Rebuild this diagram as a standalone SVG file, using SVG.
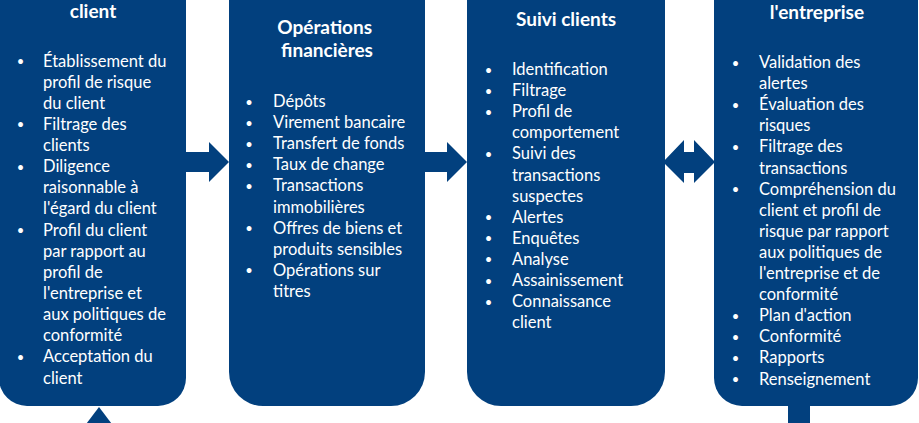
<svg xmlns="http://www.w3.org/2000/svg" width="919" height="423" viewBox="0 0 919 423">
  <style>
    .box { fill: #02407E; }
    .arrow { fill: #02407E; }
    text { font-family: Lato, "Liberation Sans", sans-serif; fill: #FFFFFF; }
    .title { font-size: 19px; font-weight: bold; text-anchor: middle; }
    .item { font-size: 16.5px; }
    .dot { font-size: 13px; text-anchor: middle; }
  </style>

  <!-- connectors: block arrows between the stages -->
  <g id="connectors">
    <polygon class="arrow" points="185,152 209,152 209,142 229,162 209,182 209,172 185,172"/>
    <polygon class="arrow" points="424,152 447,152 447,142 467,162 447,182 447,172 424,172"/>
    <polygon class="arrow" points="663,162 684,140 684,152 694,152 694,140 715,162 694,183 694,173 684,173 684,183"/>
    <polygon class="arrow" points="99,407 124,440 74,440"/>
    <rect class="arrow" x="788" y="400" width="22" height="30"/>
  </g>

  <!-- stage 1: client -->
  <g id="node-client">
    <rect class="box" x="-1" y="-60" width="187" height="466" rx="28" ry="28"/>
    <text class="title" x="93" y="17.5">client</text>
    <text class="dot" x="20.5" y="66">•</text>
    <text class="dot" x="20.5" y="129.4">•</text>
    <text class="dot" x="20.5" y="171.7">•</text>
    <text class="dot" x="20.5" y="235.1">•</text>
    <text class="dot" x="20.5" y="361.9">•</text>
    <text class="item">
      <tspan x="43" y="66.5">Établissement du</tspan>
      <tspan x="43" y="87.6">profil de risque</tspan>
      <tspan x="43" y="108.8">du client</tspan>
      <tspan x="43" y="129.9">Filtrage des</tspan>
      <tspan x="43" y="151.0">clients</tspan>
      <tspan x="43" y="172.2">Diligence</tspan>
      <tspan x="43" y="193.3">raisonnable à</tspan>
      <tspan x="43" y="214.4">l'égard du client</tspan>
      <tspan x="43" y="235.6">Profil du client</tspan>
      <tspan x="43" y="256.7">par rapport au</tspan>
      <tspan x="43" y="277.8">profil de</tspan>
      <tspan x="43" y="299.0">l'entreprise et</tspan>
      <tspan x="43" y="320.1">aux politiques de</tspan>
      <tspan x="43" y="341.2">conformité</tspan>
      <tspan x="43" y="362.4">Acceptation du</tspan>
      <tspan x="43" y="383.5">client</tspan>
    </text>
  </g>

  <!-- stage 2: financial operations -->
  <g id="node-operations">
    <rect class="box" x="229" y="-60" width="196" height="466" rx="34" ry="34"/>
    <text class="title">
      <tspan x="327" y="34">Opérations</tspan>
      <tspan x="327" y="57">financières</tspan>
    </text>
    <text class="dot" x="249" y="106.5">•</text>
    <text class="dot" x="249" y="127.6">•</text>
    <text class="dot" x="249" y="148.7">•</text>
    <text class="dot" x="249" y="169.8">•</text>
    <text class="dot" x="249" y="190.9">•</text>
    <text class="dot" x="249" y="233.1">•</text>
    <text class="dot" x="249" y="275.3">•</text>
    <text class="item">
      <tspan x="273" y="107">Dépôts</tspan>
      <tspan x="273" y="128.1">Virement bancaire</tspan>
      <tspan x="273" y="149.2">Transfert de fonds</tspan>
      <tspan x="273" y="170.3">Taux de change</tspan>
      <tspan x="273" y="191.4">Transactions</tspan>
      <tspan x="273" y="212.5">immobilières</tspan>
      <tspan x="273" y="233.6">Offres de biens et</tspan>
      <tspan x="273" y="254.7">produits sensibles</tspan>
      <tspan x="273" y="275.8">Opérations sur</tspan>
      <tspan x="273" y="296.9">titres</tspan>
    </text>
  </g>

  <!-- stage 3: customer monitoring -->
  <g id="node-suivi">
    <rect class="box" x="467" y="-60" width="198" height="466" rx="34" ry="34"/>
    <text class="title" x="566" y="26">Suivi clients</text>
    <text class="dot" x="488.5" y="74.5">•</text>
    <text class="dot" x="488.5" y="95.6">•</text>
    <text class="dot" x="488.5" y="116.7">•</text>
    <text class="dot" x="488.5" y="158.9">•</text>
    <text class="dot" x="488.5" y="222.2">•</text>
    <text class="dot" x="488.5" y="243.3">•</text>
    <text class="dot" x="488.5" y="264.4">•</text>
    <text class="dot" x="488.5" y="285.5">•</text>
    <text class="dot" x="488.5" y="306.6">•</text>
    <text class="item">
      <tspan x="512" y="75">Identification</tspan>
      <tspan x="512" y="96.1">Filtrage</tspan>
      <tspan x="512" y="117.2">Profil de</tspan>
      <tspan x="512" y="138.3">comportement</tspan>
      <tspan x="512" y="159.4">Suivi des</tspan>
      <tspan x="512" y="180.5">transactions</tspan>
      <tspan x="512" y="201.6">suspectes</tspan>
      <tspan x="512" y="222.7">Alertes</tspan>
      <tspan x="512" y="243.8">Enquêtes</tspan>
      <tspan x="512" y="264.9">Analyse</tspan>
      <tspan x="512" y="286.0">Assainissement</tspan>
      <tspan x="512" y="307.1">Connaissance</tspan>
      <tspan x="512" y="328.2">client</tspan>
    </text>
  </g>

  <!-- stage 4: company policy -->
  <g id="node-entreprise">
    <rect class="box" x="714" y="-60" width="204" height="466" rx="28" ry="28"/>
    <text class="title" x="817" y="18.5">l'entreprise</text>
    <text class="dot" x="735.5" y="67.5">•</text>
    <text class="dot" x="735.5" y="109.7">•</text>
    <text class="dot" x="735.5" y="151.9">•</text>
    <text class="dot" x="735.5" y="194.1">•</text>
    <text class="dot" x="735.5" y="320.7">•</text>
    <text class="dot" x="735.5" y="341.8">•</text>
    <text class="dot" x="735.5" y="362.9">•</text>
    <text class="dot" x="735.5" y="384.0">•</text>
    <text class="item">
      <tspan x="759" y="68">Validation des</tspan>
      <tspan x="759" y="89.1">alertes</tspan>
      <tspan x="759" y="110.2">Évaluation des</tspan>
      <tspan x="759" y="131.3">risques</tspan>
      <tspan x="759" y="152.4">Filtrage des</tspan>
      <tspan x="759" y="173.5">transactions</tspan>
      <tspan x="759" y="194.6">Compréhension du</tspan>
      <tspan x="759" y="215.7">client et profil de</tspan>
      <tspan x="759" y="236.8">risque par rapport</tspan>
      <tspan x="759" y="257.9">aux politiques de</tspan>
      <tspan x="759" y="279.0">l'entreprise et de</tspan>
      <tspan x="759" y="300.1">conformité</tspan>
      <tspan x="759" y="321.2">Plan d'action</tspan>
      <tspan x="759" y="342.3">Conformité</tspan>
      <tspan x="759" y="363.4">Rapports</tspan>
      <tspan x="759" y="384.5">Renseignement</tspan>
    </text>
  </g>
</svg>
